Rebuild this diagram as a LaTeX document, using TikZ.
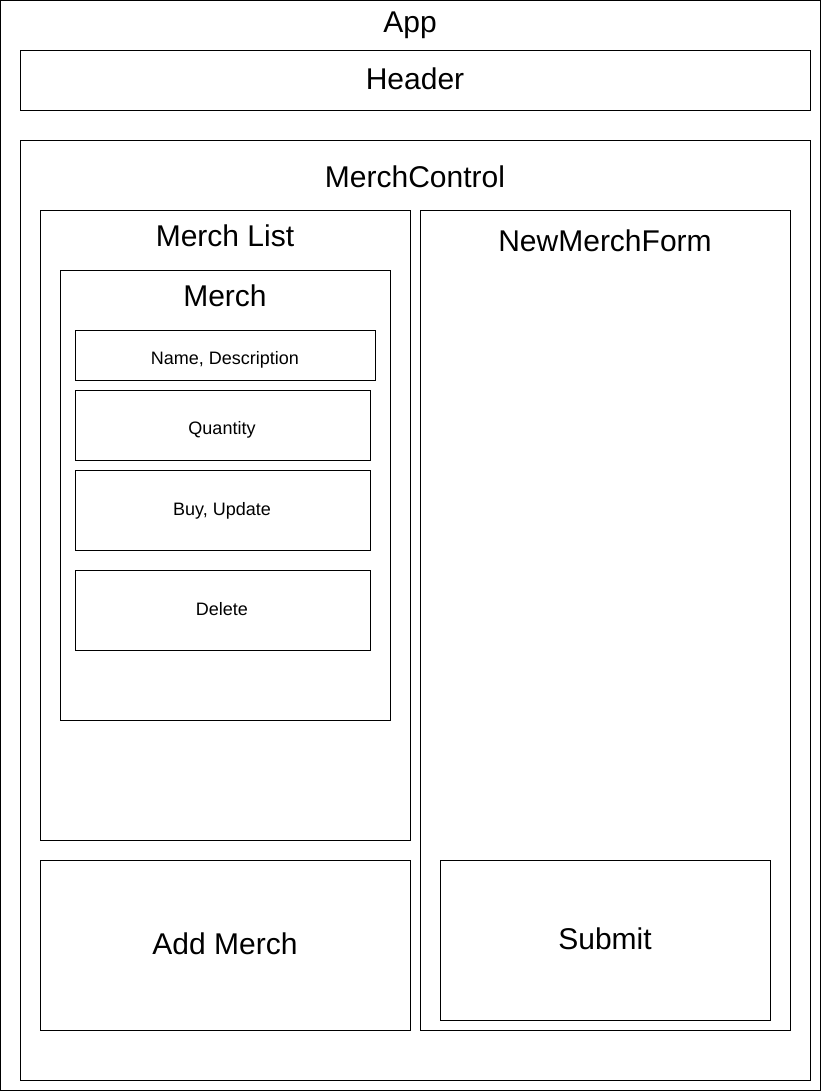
\documentclass[tikz,border=0pt]{standalone}
\usepackage{fontspec}
\setmainfont{Liberation Sans}
\begin{document}
\begin{tikzpicture}[x=0.75pt,y=-0.75pt,
  box/.style={draw=black,line width=0.9pt},
  big/.style={anchor=base,inner sep=0pt,font=\fontsize{22.5pt}{26pt}\selectfont},
  small/.style={anchor=base,inner sep=0pt,font=\fontsize{13.5pt}{16pt}\selectfont}]
\useasboundingbox (0,0) rectangle (821,1091);
\fill[white] (0,0) rectangle (821,1091);
\draw[box] (0.5,0.5) rectangle (820.5,1090.5);
\node[big] (app) at (410,33) {App};
\draw[box] (20.5,50.5) rectangle (810.5,110.5);
\node[big] (header) at (415,90) {Header};
\draw[box] (20.5,140.5) rectangle (810.5,1080.5);
\node[big] (mc) at (415,188) {MerchControl};
\draw[box] (40.5,210.5) rectangle (410.5,840.5);
\node[big] (ml) at (225,247) {Merch List};
\draw[box] (420.5,210.5) rectangle (790.5,1030.5);
\node[big] (nmf) at (605,252) {NewMerchForm};
\draw[box] (60.5,270.5) rectangle (390.5,720.5);
\node[big] (merch) at (225,306) {Merch};
\draw[box] (75.5,330.5) rectangle (375.5,380.5);
\node[small] (nd) at (225,364) {Name, Description};
\draw[box] (75.5,390.5) rectangle (370.5,460.5);
\node[small] (qty) at (222,434) {Quantity};
\draw[box] (75.5,470.5) rectangle (370.5,550.5);
\node[small] (bu) at (222,515) {Buy, Update};
\draw[box] (75.5,570.5) rectangle (370.5,650.5);
\node[small] (del) at (222,615) {Delete};
\draw[box] (40.5,860.5) rectangle (410.5,1030.5);
\node[big] (add) at (225,954) {Add Merch};
\draw[box] (440.5,860.5) rectangle (770.5,1020.5);
\node[big] (sub) at (605,949) {Submit};
\end{tikzpicture}
\end{document}
